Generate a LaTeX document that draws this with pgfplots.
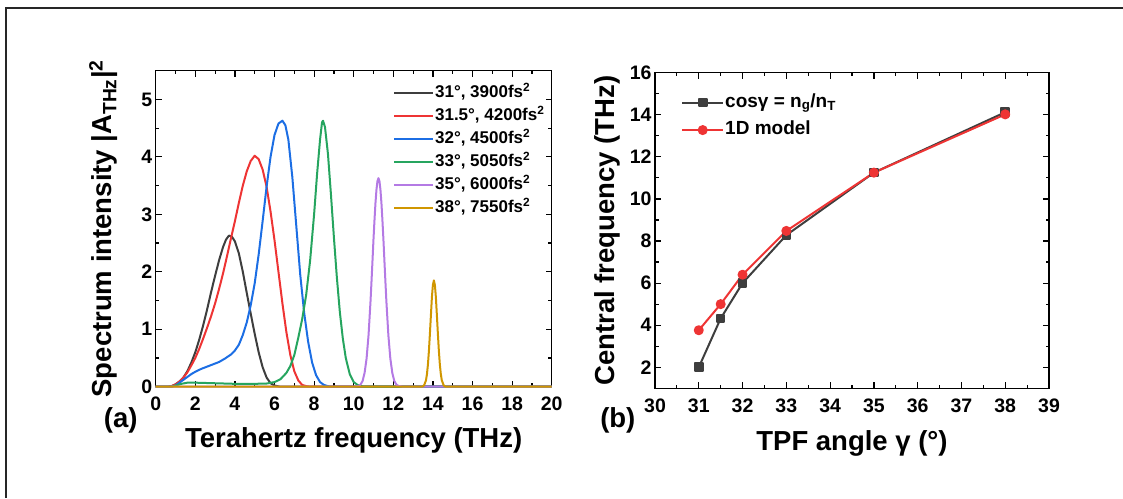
\documentclass[border=0pt]{standalone}
\usepackage{fontspec}
\setmainfont{Liberation Sans}
\usepackage{pgfplots}
\pgfplotsset{compat=1.18}

\definecolor{cblk}{RGB}{62,62,62}
\definecolor{cred}{RGB}{238,52,52}
\definecolor{cblue}{RGB}{28,110,228}
\definecolor{cgreen}{RGB}{38,165,95}
\definecolor{cpurple}{RGB}{180,122,228}
\definecolor{cgold}{RGB}{208,150,0}

\newcommand\tickfont{\fontsize{19.5}{22}\selectfont\bfseries}
\newcommand\labfont{\fontsize{27.5}{32}\selectfont\bfseries}
\newcommand\legfont{\fontsize{17}{19}\selectfont\bfseries}

\pgfplotsset{
  panel/.style={
    scale only axis,
    anchor=south west,
    tick align=inside,
    xtick pos=both, ytick pos=both,
    minor x tick num=1, minor y tick num=1,
    major tick length=6pt, minor tick length=3.5pt,
    axis line style={line width=1.4pt},
    every tick/.style={black, line width=1.2pt},
    ticklabel style={font=\tickfont},
    xticklabel style={yshift=-7pt},
    /pgf/number format/assume math mode=true,
    label style={font=\labfont},
    clip=false,
  },
}

\begin{document}
\begin{tikzpicture}[x=1pt,y=1pt]
\useasboundingbox (0,0) rectangle (1123,498);
\draw[line width=2pt, black!85] (6,0) -- (6,490) -- (1123,490);

% (a) spectra
\begin{axis}[panel,
    at={(155.7pt,111.3pt)}, width=396pt, height=316pt,
    xmin=0, xmax=20, ymin=0, ymax=5.5,
    xtick={0,2,...,20}, ytick={0,1,...,5},
    xlabel={Terahertz frequency (THz)},
    ylabel={Spectrum intensity |A\textsubscript{THz}|\textsuperscript{2}},
    xlabel style={at={(axis description cs:0.5,-0.171)}, anchor=center},
    ylabel style={at={(axis description cs:-0.132,0.5)}, anchor=center},
    legend style={at={(rel axis cs:0.599,0.96)}, anchor=north west,
      draw=none, fill=none, inner sep=0pt, font=\legfont, row sep=4pt,
      nodes={inner sep=1pt, text height=13pt, text depth=4pt}},
    legend cell align=left,
    legend image code/.code={\draw[#1] (0pt,0pt) -- (39pt,0pt);},
    every axis plot/.append style={line width=2pt, line join=round},
  ]
  \addplot[cblk] coordinates {
    (0,0) (0.6,0) (0.8,0.01) (1.0,0.04) (1.2,0.09) (1.4,0.16) (1.6,0.27)
    (1.8,0.42) (2.0,0.6) (2.2,0.82) (2.4,1.07) (2.6,1.35) (2.8,1.65)
    (3.0,1.93) (3.2,2.2) (3.4,2.43) (3.55,2.56) (3.7,2.63) (3.85,2.61)
    (4.0,2.53) (4.2,2.32) (4.4,2.0) (4.6,1.63) (4.8,1.27) (5.0,0.92)
    (5.2,0.6) (5.4,0.34) (5.6,0.16) (5.8,0.06) (6.0,0.02) (6.3,0) (20,0)
  };
  \addlegendentry{31°, 3900fs\textsuperscript{2}}
  \addplot[cred] coordinates {
    (0,0) (0.6,0) (0.8,0.01) (1.0,0.04) (1.2,0.09) (1.4,0.16) (1.6,0.25)
    (1.8,0.37) (2.0,0.5) (2.2,0.66) (2.4,0.84) (2.6,1.03) (2.8,1.23)
    (3.0,1.45) (3.2,1.7) (3.4,1.97) (3.6,2.27) (3.8,2.58) (4.0,2.88)
    (4.2,3.2) (4.4,3.5) (4.6,3.75) (4.8,3.93) (5.0,4.02) (5.2,3.96)
    (5.4,3.78) (5.6,3.48) (5.8,3.05) (6.0,2.55) (6.2,2.0) (6.4,1.45)
    (6.6,0.95) (6.8,0.55) (7.0,0.27) (7.2,0.11) (7.4,0.03) (7.6,0.01)
    (7.8,0) (20,0)
  };
  \addlegendentry{31.5°, 4200fs\textsuperscript{2}}
  \addplot[cblue] coordinates {
    (0,0) (0.8,0) (1.0,0.02) (1.2,0.07) (1.4,0.12) (1.6,0.17) (1.8,0.22)
    (2.0,0.26) (2.3,0.31) (2.6,0.35) (2.9,0.39) (3.2,0.43) (3.5,0.49)
    (3.8,0.56) (4.0,0.63) (4.2,0.73) (4.4,0.9) (4.6,1.12) (4.8,1.42)
    (5.0,1.8) (5.2,2.3) (5.4,2.88) (5.6,3.48) (5.8,4.0) (6.0,4.38)
    (6.2,4.58) (6.4,4.63) (6.55,4.55) (6.7,4.3) (6.9,3.65) (7.1,2.8)
    (7.3,1.95) (7.5,1.28) (7.7,0.78) (7.9,0.42) (8.1,0.2) (8.3,0.08)
    (8.5,0.03) (8.8,0) (20,0)
  };
  \addlegendentry{32°, 4500fs\textsuperscript{2}}
  \addplot[cgreen] coordinates {
    (0,0) (0.8,0) (1.0,0.02) (1.3,0.05) (1.6,0.07) (2.0,0.07) (2.5,0.065)
    (3.0,0.06) (4.0,0.05) (5.0,0.05) (5.6,0.055) (6.0,0.08) (6.3,0.13)
    (6.6,0.24) (6.8,0.36) (7.0,0.55) (7.2,0.85) (7.4,1.18) (7.6,1.6)
    (7.8,2.2) (8.0,3.0) (8.15,3.7) (8.3,4.3) (8.4,4.6) (8.45,4.63)
    (8.55,4.52) (8.7,4.05) (8.85,3.35) (9.0,2.6) (9.15,1.9) (9.3,1.3)
    (9.45,0.84) (9.6,0.5) (9.8,0.22) (10.0,0.08) (10.2,0.03) (10.5,0) (20,0)
  };
  \addlegendentry{33°, 5050fs\textsuperscript{2}}
  \addplot[cpurple] coordinates {
    (0,0) (10.0,0) (10.25,0.014) (10.35,0.04) (10.45,0.1) (10.55,0.24)
    (10.65,0.49) (10.75,0.9) (10.85,1.49) (10.9,1.84) (10.95,2.2)
    (11.0,2.57) (11.05,2.9) (11.1,3.2) (11.15,3.43) (11.2,3.58)
    (11.25,3.63) (11.3,3.58) (11.35,3.43) (11.4,3.2) (11.45,2.9)
    (11.5,2.57) (11.55,2.2) (11.6,1.84) (11.65,1.49) (11.75,0.9)
    (11.85,0.49) (11.95,0.24) (12.05,0.1) (12.15,0.04) (12.25,0.014)
    (12.5,0) (20,0)
  };
  \addlegendentry{35°, 6000fs\textsuperscript{2}}
  \addplot[cgold] coordinates {
    (0,0) (13.45,0) (13.55,0.02) (13.65,0.11) (13.7,0.22) (13.75,0.39)
    (13.8,0.63) (13.85,0.93) (13.9,1.25) (13.95,1.56) (14.0,1.77)
    (14.05,1.85) (14.1,1.77) (14.15,1.56) (14.2,1.25) (14.25,0.93)
    (14.3,0.63) (14.35,0.39) (14.4,0.22) (14.45,0.11) (14.55,0.02)
    (14.65,0) (20,0)
  };
  \addlegendentry{38°, 7550fs\textsuperscript{2}}
\end{axis}

% (b) central frequency vs angle
\begin{axis}[panel,
    at={(655pt,109.7pt)}, width=394pt, height=315.6pt,
    xmin=30, xmax=39, ymin=1, ymax=16,
    xtick={30,...,39}, ytick={2,4,...,16},
    xlabel={TPF angle γ (°)},
    ylabel={Central frequency (THz)},
    xlabel style={at={(axis description cs:0.5,-0.175)}, anchor=center},
    ylabel style={at={(axis description cs:-0.12,0.5)}, anchor=center},
    legend style={at={(rel axis cs:0.066,0.94)}, anchor=north west,
      draw=none, fill=none, inner sep=0pt, font=\fontsize{19}{21}\selectfont\bfseries,
      row sep=6pt,
      nodes={inner sep=1pt, text height=14.5pt, text depth=5pt}},
    legend cell align=left,
    legend image code/.code={\draw[#1, mark repeat=2, mark phase=2]
      plot coordinates {(0pt,0pt) (20.5pt,0pt) (41pt,0pt)};},
    every axis plot/.append style={line width=2pt, line join=round},
  ]
  \addplot[cblk, mark=square*, mark size=3.8pt, mark options={solid}] coordinates {
    (31,2.0) (31.5,4.32) (32,6.0) (33,8.28) (35,11.25) (38,14.12)
  };
  \addlegendentry{cosγ = n\textsubscript{g}/n\textsubscript{T}}
  \addplot[cred, mark=*, mark size=4pt, mark options={solid}] coordinates {
    (31,3.76) (31.5,5.0) (32,6.4) (33,8.48) (35,11.25) (38,14.02)
  };
  \addlegendentry{1D model}
\end{axis}

\node[font=\labfont] at (120.7,77.5) {(a)};
\node[font=\labfont] at (617.8,77.5) {(b)};
\end{tikzpicture}
\end{document}
